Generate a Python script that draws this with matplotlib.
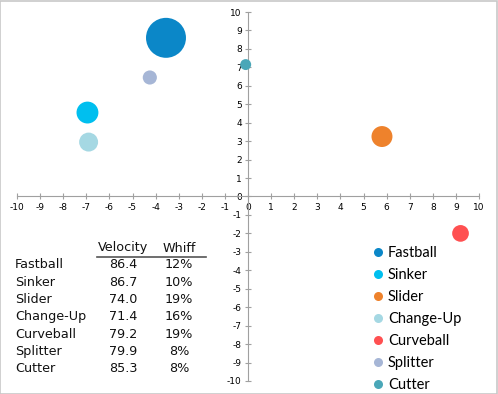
import matplotlib.pyplot as plt
from matplotlib.lines import Line2D
from matplotlib.patches import Rectangle

plt.rcParams['axes.unicode_minus'] = False

# pitch data
pitches = ['Fastball', 'Sinker', 'Slider', 'Change-Up', 'Curveball', 'Splitter', 'Cutter']
h_move = [-3.55, -6.95, 5.8, -6.9, 9.2, -4.25, -0.1]
v_move = [8.6, 4.55, 3.25, 2.95, -2.0, 6.45, 7.15]
usage = [40, 12, 11, 9, 7, 5, 3]
velocity = ['86.4', '86.7', '74.0', '71.4', '79.2', '79.9', '85.3']
whiff = ['12%', '10%', '19%', '16%', '19%', '8%', '8%']
colors = ['#0b87c8', '#00bfef', '#ee822c', '#a5d8e3', '#ff5051', '#a6b6d6', '#4aa7b8']
ticks = list(range(-10, 11))

W, H = 498, 394
fig = plt.figure(figsize=(W/100, H/100), dpi=100)
fig.patches.append(Rectangle((0.001, 0.001), 0.997, 0.996, transform=fig.transFigure,
                             fill=False, edgecolor='#c8c8c8', lw=1.2))

ax = fig.add_axes([17/W, 1 - 381/H, 462/W, 369/H])
ax.set_xlim(-10, 10)
ax.set_ylim(-10, 10)

for i in range(len(pitches)):
    ax.scatter(h_move[i], v_move[i], s=usage[i]*20.7, color=colors[i],
               edgecolors='none', zorder=3)

for side in ['top', 'right']:
    ax.spines[side].set_visible(False)
ax.spines['left'].set_position(('data', 0))
ax.spines['bottom'].set_position(('data', 0))
ax.spines['left'].set_color('#a0a0a0')
ax.spines['bottom'].set_color('#a0a0a0')
ax.set_xticks(ticks)
ax.set_yticks(ticks)
ax.tick_params(axis='both', direction='inout', length=5, color='#a0a0a0',
               labelsize=6.5, pad=2)
ax.set_facecolor('none')


def px(x, y):
    return x / W, 1 - y / H


# table
tfont = dict(family='DejaVu Sans', fontsize=9.2, color='#111111', va='center')
fig.text(*px(123, 248), 'Velocity', ha='center', **tfont)
fig.text(*px(179, 248), 'Whiff', ha='center', **tfont)
fig.add_artist(Line2D([97/W, 206/W], [1 - 257/H, 1 - 257/H], color='#555555', lw=1.2))
for i in range(len(pitches)):
    y = 265 + i * 17.3
    fig.text(*px(15, y), pitches[i], ha='left', **tfont)
    fig.text(*px(123, y), velocity[i], ha='center', **tfont)
    fig.text(*px(179, y), whiff[i], ha='center', **tfont)

# legend
handles = [Line2D([], [], ls='none', marker='o', markersize=6.5, color=c, markeredgewidth=0)
           for c in colors]
ax.legend(handles, pitches, loc='upper left', bbox_to_anchor=(366/W, 1 - 239/H),
          bbox_transform=fig.transFigure, frameon=False,
          prop=dict(family='Lato', size=10.5), handlelength=0.6, handletextpad=0.4,
          labelspacing=0.55, borderpad=0)

fig.savefig('out.png', dpi=100)
